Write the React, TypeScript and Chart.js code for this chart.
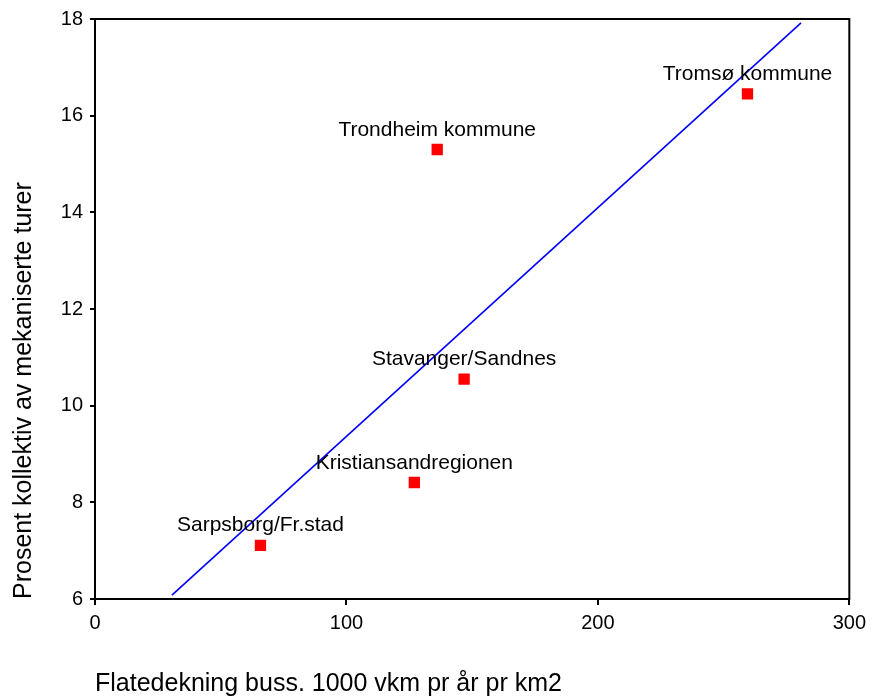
import React, { useEffect, useRef } from "react";
import { Chart, registerables } from "chart.js";

Chart.register(...registerables);

const cityNames = [
  "Sarpsborg/Fr.stad",
  "Kristiansandregionen",
  "Stavanger/Sandnes",
  "Trondheim kommune",
  "Tromsø kommune",
];
const busCoverage = [65.8, 127.0, 146.8, 136.1, 259.5];
const transitShare = [7.11, 8.41, 10.55, 15.3, 16.45];
const trendX = [30.6, 280.8];
const trendY = [6.08, 17.92];
const xTicks = [0, 100, 200, 300];
const yTicks = [6, 8, 10, 12, 14, 16, 18];

const FONT = '"Liberation Sans", Arial, Helvetica, sans-serif';

const labelPlugin = {
  id: "pointLabels",
  afterDatasetsDraw(chart: any) {
    const meta = chart.getDatasetMeta(0);
    const ctx = chart.ctx;
    ctx.save();
    ctx.font = `21px ${FONT}`;
    ctx.fillStyle = "#000000";
    ctx.textAlign = "center";
    ctx.textBaseline = "alphabetic";
    meta.data.forEach((el: any, i: number) => {
      ctx.fillText(cityNames[i], el.x, el.y - 14);
    });
    ctx.restore();
  },
};

const boxPlugin = {
  id: "plotBox",
  afterDraw(chart: any) {
    const { ctx, chartArea } = chart;
    ctx.save();
    ctx.strokeStyle = "#000000";
    ctx.lineWidth = 2;
    ctx.strokeRect(
      chartArea.left,
      chartArea.top,
      chartArea.right - chartArea.left,
      chartArea.bottom - chartArea.top
    );
    ctx.restore();
  },
};

export default function App() {
  const canvasRef = useRef<HTMLCanvasElement | null>(null);

  useEffect(() => {
    document.body.style.margin = "0";
    const canvas = canvasRef.current;
    if (!canvas) return;
    const chart = new Chart(canvas, {
      type: "scatter",
      data: {
        datasets: [
          {
            label: "Byer",
            data: busCoverage.map((x, i) => ({ x, y: transitShare[i] })),
            pointStyle: "rect",
            pointRadius: 8,
            pointBackgroundColor: "#FF0000",
            pointBorderColor: "#FF0000",
            pointBorderWidth: 0,
            showLine: false,
            order: 0,
          },
          {
            label: "Trend",
            type: "line",
            data: trendX.map((x, i) => ({ x, y: trendY[i] })),
            borderColor: "#0000FF",
            borderWidth: 1.6,
            pointRadius: 0,
            fill: false,
            order: 1,
          } as any,
        ],
      },
      options: {
        animation: false,
        responsive: true,
        maintainAspectRatio: false,
        layout: { padding: { top: 16, right: 21, bottom: 0, left: 0 } },
        plugins: {
          legend: { display: false },
          tooltip: { enabled: false },
        },
        scales: {
          x: {
            type: "linear",
            min: 0,
            max: 300,
            afterBuildTicks: (axis: any) => {
              axis.ticks = xTicks.map((v) => ({ value: v }));
            },
            afterFit: (axis: any) => {
              axis.height = 101;
            },
            ticks: {
              color: "#000000",
              font: { family: FONT, size: 20 },
              padding: 6,
              maxRotation: 0,
            },
            grid: {
              drawOnChartArea: false,
              drawTicks: true,
              tickLength: 6,
              color: "#000000",
              lineWidth: 2,
            },
            border: { display: true, color: "#000000", width: 2 },
            title: {
              display: true,
              text: "Flatedekning buss. 1000 vkm pr år pr km2",
              align: "start",
              color: "#000000",
              font: { family: FONT, size: 25 },
              padding: { top: 0, bottom: 1 },
            },
          },
          y: {
            type: "linear",
            min: 6,
            max: 18,
            afterBuildTicks: (axis: any) => {
              axis.ticks = yTicks.map((v) => ({ value: v }));
            },
            afterFit: (axis: any) => {
              axis.width = 95;
            },
            ticks: {
              color: "#000000",
              font: { family: FONT, size: 20 },
              padding: 7,
            },
            grid: {
              drawOnChartArea: false,
              drawTicks: true,
              tickLength: 5,
              color: "#000000",
              lineWidth: 2,
            },
            border: { display: true, color: "#000000", width: 2 },
            title: {
              display: true,
              text: "Prosent kollektiv av mekaniserte turer",
              align: "start",
              color: "#000000",
              font: { family: FONT, size: 25 },
              padding: { top: 9, bottom: 0 },
            },
          },
        },
      },
      plugins: [labelPlugin, boxPlugin],
    });
    return () => chart.destroy();
  }, []);

  return (
    <div style={{ position: "relative", width: 872, height: 700 }}>
      <canvas ref={canvasRef} />
    </div>
  );
}
